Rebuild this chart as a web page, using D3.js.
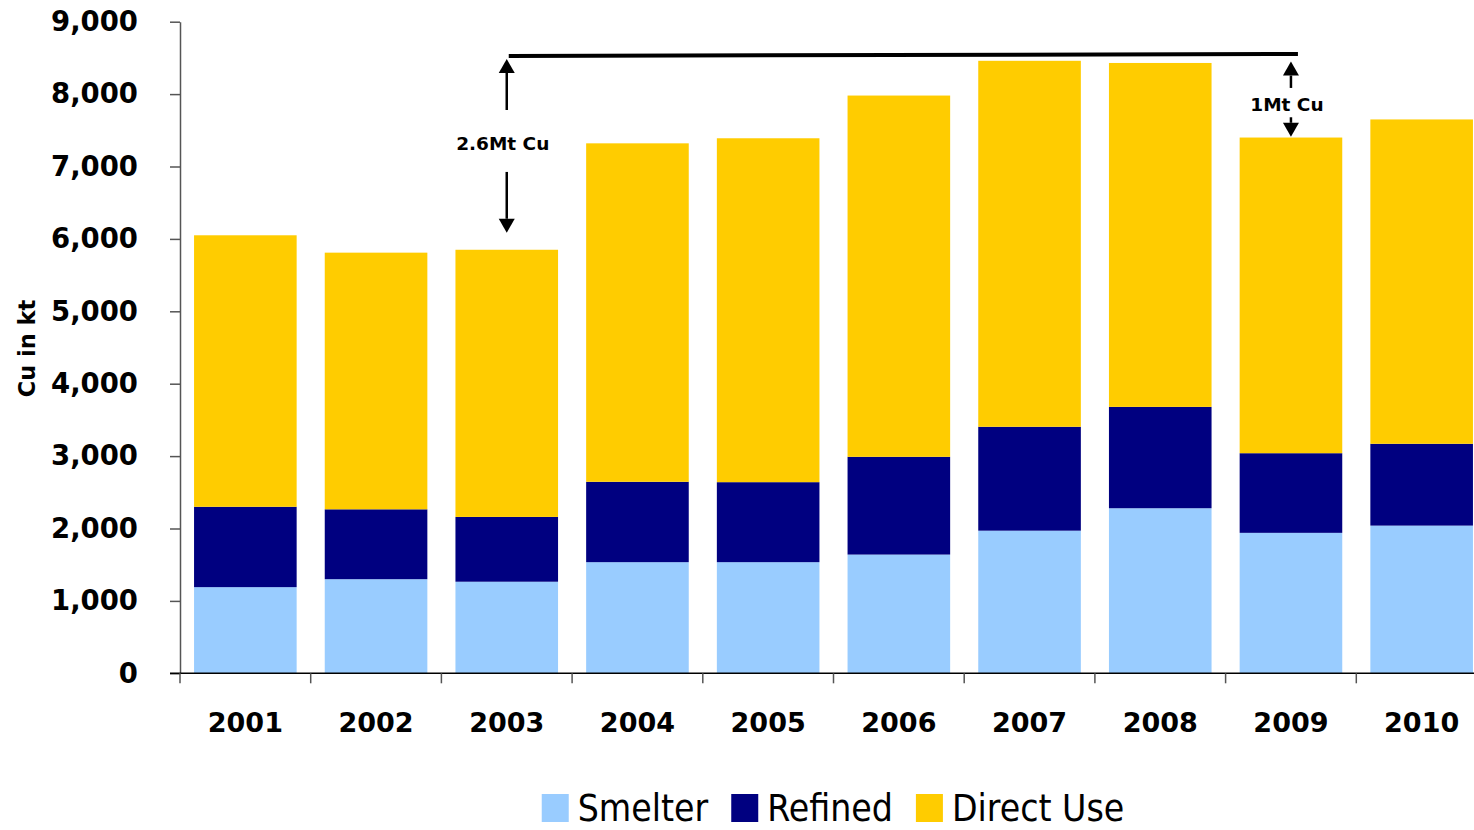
<!DOCTYPE html>
<html>
<head>
<meta charset="utf-8">
<script src="https://cdn.jsdelivr.net/npm/d3@7"></script>
<style>
  body { margin: 0; background: #fff; }
  svg { display: block; }
</style>
</head>
<body>
<div id="chart"></div>
<script>
// data (kt Cu)
const years = ["2001","2002","2003","2004","2005","2006","2007","2008","2009","2010"];
const smelter = [1190, 1300, 1265, 1535, 1535, 1640, 1970, 2280, 1940, 2040];
const refined = [1110,  965,  895, 1110, 1105, 1350, 1435, 1400, 1100, 1130];
const directUse = [3750, 3545, 3690, 4675, 4750, 4990, 5055, 4750, 4360, 4480];
const seriesNames = ["Smelter", "Refined", "Direct Use"];
const seriesColors = ["#99CCFF", "#000080", "#FFCC00"];
const yTicks = [0, 1000, 2000, 3000, 4000, 5000, 6000, 7000, 8000, 9000];

// gap annotations: peak level line and the two arrows
const peakLevel = 8540;
const gapNotes = [
  {year: "2003", label: "2.6Mt Cu", labelAt: 7325, upFrom: 7780, upTo: 8485, downFrom: 6925, downTo: 6085},
  {year: "2009", label: "1Mt Cu",   labelAt: 7863, upFrom: 8085, upTo: 8450, downFrom: 7680, downTo: 7410}
];

const W = 1474, H = 830;
const margin = {left: 180, top: 21.7, bottom: 830 - 673.3};
const plotRight = 1487;

const svg = d3.select("#chart").append("svg")
  .attr("width", W).attr("height", H);

const x = d3.scaleBand()
  .domain(years)
  .range([margin.left, plotRight])
  .paddingInner(0.215)
  .paddingOuter(0.1075);

const y = d3.scaleLinear()
  .domain([0, 9000])
  .range([H - margin.bottom, margin.top]);

const table = years.map((yr, i) => ({year: yr, Smelter: smelter[i], Refined: refined[i], "Direct Use": directUse[i]}));
const stacked = d3.stack().keys(seriesNames)(table);

// bars
svg.append("g").selectAll("g")
  .data(stacked)
  .join("g")
  .attr("fill", (d, i) => seriesColors[i])
  .selectAll("rect")
  .data(d => d)
  .join("rect")
  .attr("x", d => x(d.data.year))
  .attr("width", x.bandwidth())
  .attr("y", d => y(d[1]))
  .attr("height", d => y(d[0]) - y(d[1]));

// y axis
const yAxisG = svg.append("g")
  .attr("transform", "translate(" + margin.left + ",0)")
  .call(d3.axisLeft(y).tickValues(yTicks).tickFormat(d3.format(",")).tickSize(10).tickSizeOuter(0).tickPadding(32));
yAxisG.select(".domain").attr("stroke", "#555").attr("stroke-width", 1.5);
yAxisG.selectAll(".tick line").attr("stroke", "#555").attr("stroke-width", 1.5);
yAxisG.selectAll(".tick text")
  .attr("font-family", "DejaVu Sans, Verdana, sans-serif")
  .attr("font-weight", "bold")
  .attr("font-size", 27.5)
  .attr("fill", "#000");

// x axis: labels in the band centres, ticks on the band boundaries
const xAxisG = svg.append("g")
  .attr("transform", "translate(0," + y(0) + ")")
  .call(d3.axisBottom(x).tickSize(0).tickSizeOuter(0).tickPadding(40));
xAxisG.select(".domain").remove();
xAxisG.selectAll(".tick text")
  .attr("font-family", "DejaVu Sans, Verdana, sans-serif")
  .attr("font-weight", "bold")
  .attr("font-size", 27)
  .attr("fill", "#000");

const halfGap = x.step() * x.paddingInner() / 2;
const boundaries = years.map(yr => x(yr) - halfGap);
xAxisG.append("line")
  .attr("x1", margin.left - 10).attr("x2", W)
  .attr("stroke", "#000").attr("stroke-width", 1.5);
xAxisG.selectAll(".bound")
  .data(boundaries)
  .join("line")
  .attr("class", "bound")
  .attr("x1", d => d).attr("x2", d => d)
  .attr("y1", 0).attr("y2", 10)
  .attr("stroke", "#555").attr("stroke-width", 1.5);

// y title
svg.append("text")
  .attr("transform", "translate(35," + (y(4500) + 1) + ") rotate(-90)")
  .attr("text-anchor", "middle")
  .attr("font-family", "DejaVu Sans, Verdana, sans-serif")
  .attr("font-weight", "bold")
  .attr("font-size", 22.5)
  .text("Cu in kt");

// annotations
const cx = yr => x(yr) + x.bandwidth() / 2;
const annG = svg.append("g");
annG.append("line")
  .attr("x1", cx(gapNotes[0].year) + 2)
  .attr("x2", cx(gapNotes[1].year) + 7)
  .attr("y1", y(peakLevel) + 1)
  .attr("y2", y(peakLevel) - 1)
  .attr("stroke", "#000").attr("stroke-width", 4);

function arrow(g, xPos, fromV, toV) {
  const y0 = y(fromV), y1 = y(toV);
  const dir = y1 < y0 ? -1 : 1;
  const headLen = 14, headHalf = 8;
  g.append("line")
    .attr("x1", xPos).attr("x2", xPos)
    .attr("y1", y0).attr("y2", y1 - dir * headLen)
    .attr("stroke", "#000").attr("stroke-width", 2.5);
  g.append("path")
    .attr("d", "M" + xPos + "," + y1 +
      "L" + (xPos - headHalf) + "," + (y1 - dir * headLen) +
      "L" + (xPos + headHalf) + "," + (y1 - dir * headLen) + "Z")
    .attr("fill", "#000");
}

gapNotes.forEach(n => {
  const xp = cx(n.year);
  arrow(annG, xp, n.upFrom, n.upTo);
  arrow(annG, xp, n.downFrom, n.downTo);
  annG.append("text")
    .attr("x", xp - 4)
    .attr("y", y(n.labelAt))
    .attr("dy", "0.36em")
    .attr("text-anchor", "middle")
    .attr("font-family", "DejaVu Sans, Verdana, sans-serif")
    .attr("font-weight", "bold")
    .attr("font-size", 18.5)
    .text(n.label);
});

// legend
const legendY = 794;
const legendG = svg.append("g");
let lx = 0;
const items = legendG.selectAll("g")
  .data(seriesNames)
  .join("g");
items.each(function(name, i) {
  const g = d3.select(this);
  g.append("rect")
    .attr("x", 0).attr("y", 0)
    .attr("width", 27).attr("height", 28)
    .attr("fill", seriesColors[i]);
  const t = g.append("text")
    .attr("x", 36).attr("y", 27)
    .attr("font-family", "DejaVu Sans Condensed, DejaVu Sans, sans-serif")
    .attr("font-size", 37)
    .text(name);
  const w = 36 + t.node().getComputedTextLength();
  g.attr("transform", "translate(" + lx + ",0)");
  lx += w + 23;
});
const legendWidth = lx - 23;
legendG.attr("transform", "translate(" + (833 - legendWidth / 2) + "," + legendY + ")");
</script>
</body>
</html>
